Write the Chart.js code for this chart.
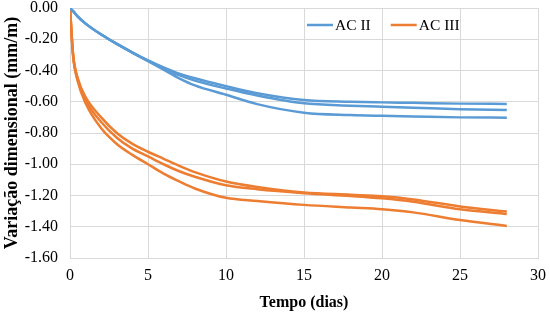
<!DOCTYPE html>
<html>
<head>
<meta charset="utf-8">
<script src="https://cdn.jsdelivr.net/npm/chart.js@4.4.1/dist/chart.umd.min.js"></script>
<style>
    html, body { margin: 0; padding: 0; background: #fff; }
    #wrap { width: 550px; height: 312px; }
</style>
</head>
<body>
<div id="wrap"><canvas id="chart" width="550" height="312"></canvas></div>
<script>
// days of measurement
const days = [0, 0.2, 0.5, 1, 2, 3, 4, 5, 6, 7, 8, 10, 12, 15, 18, 20, 22, 25, 28];

// AC II specimens (mm/m)
const acII_1 = [0, -0.02, -0.055, -0.10, -0.17, -0.23, -0.285, -0.335, -0.38, -0.42, -0.45, -0.50, -0.545, -0.589, -0.60, -0.604, -0.607, -0.612, -0.614];
const acII_2 = [0, -0.02, -0.055, -0.10, -0.17, -0.23, -0.285, -0.337, -0.385, -0.43, -0.465, -0.515, -0.56, -0.61, -0.625, -0.632, -0.638, -0.648, -0.653];
const acII_3 = [0, -0.02, -0.055, -0.10, -0.17, -0.23, -0.285, -0.34, -0.395, -0.45, -0.495, -0.555, -0.615, -0.67, -0.685, -0.69, -0.694, -0.70, -0.702];

// AC III specimens (mm/m)
const acIII_1 = [0, -0.30, -0.45, -0.57, -0.70, -0.80, -0.87, -0.92, -0.965, -1.01, -1.05, -1.11, -1.145, -1.18, -1.195, -1.205, -1.225, -1.27, -1.303];
const acIII_2 = [0, -0.30, -0.46, -0.59, -0.73, -0.83, -0.90, -0.95, -1.00, -1.045, -1.08, -1.135, -1.16, -1.185, -1.203, -1.218, -1.24, -1.288, -1.318];
const acIII_3 = [0, -0.31, -0.47, -0.61, -0.77, -0.87, -0.94, -1.00, -1.06, -1.11, -1.155, -1.215, -1.235, -1.26, -1.277, -1.288, -1.308, -1.357, -1.395];

const legendLabels = ['AC II', 'AC III'];
const blue = '#5b9bd5';
const orange = '#ed7d31';
const serif = '"Liberation Serif", "Times New Roman", serif';

function toPoints(values) {
    return days.map((d, i) => ({ x: d, y: values[i] }));
}

function line(label, values, color) {
    return {
        label: label,
        data: toPoints(values),
        borderColor: color,
        backgroundColor: color,
        borderWidth: 2.5,
        pointRadius: 0,
        cubicInterpolationMode: 'monotone',
        fill: false
    };
}

// legend drawn inside the plot area, like the original
const insideLegend = {
    id: 'insideLegend',
    afterDraw(chart) {
        const ctx = chart.ctx;
        const area = chart.chartArea;
        const y = area.top + 17;
        let x = area.left + 237;
        ctx.save();
        ctx.font = '15.5px ' + serif;
        ctx.textBaseline = 'middle';
        [[legendLabels[0], blue], [legendLabels[1], orange]].forEach(item => {
            ctx.strokeStyle = item[1];
            ctx.lineWidth = 2.5;
            ctx.beginPath();
            ctx.moveTo(x, y);
            ctx.lineTo(x + 26, y);
            ctx.stroke();
            ctx.fillStyle = '#000';
            ctx.fillText(item[0], x + 28, y + 1);
            x += 28 + ctx.measureText(item[0]).width + 20;
        });
        ctx.restore();
    }
};

const ctx = document.getElementById('chart').getContext('2d');
new Chart(ctx, {
    type: 'line',
    data: {
        datasets: [
            line('AC II', acII_1, blue),
            line('AC II', acII_2, blue),
            line('AC II', acII_3, blue),
            line('AC III', acIII_1, orange),
            line('AC III', acIII_2, orange),
            line('AC III', acIII_3, orange)
        ]
    },
    options: {
        responsive: false,
        animation: false,
        layout: { padding: { left: 0, right: 12, top: 8, bottom: 0 } },
        plugins: {
            legend: { display: false },
            tooltip: { enabled: false }
        },
        scales: {
            x: {
                type: 'linear',
                min: 0,
                max: 30,
                ticks: {
                    stepSize: 5,
                    padding: 8,
                    color: '#000',
                    font: { family: serif, size: 16 }
                },
                grid: { color: '#d9d9d9', drawTicks: false },
                border: { color: '#d9d9d9' },
                title: {
                    display: true,
                    text: 'Tempo (dias)',
                    color: '#000',
                    padding: { top: 1, bottom: 0 },
                    font: { family: serif, size: 16, weight: 'bold' }
                },
                afterFit: s => {
                    s.height = 54;
                    s.paddingLeft = 0;
                    s.paddingRight = 0;
                }
            },
            y: {
                min: -1.6,
                max: 0,
                ticks: {
                    stepSize: 0.2,
                    padding: 12,
                    color: '#000',
                    font: { family: serif, size: 16 },
                    callback: v => (Math.abs(v) < 1e-9 ? 0 : v).toFixed(2)
                },
                grid: { color: '#d9d9d9', drawTicks: false },
                border: { color: '#d9d9d9' },
                title: {
                    display: true,
                    text: 'Variação dimensional (mm/m)',
                    color: '#000',
                    padding: { top: 2, bottom: 0 },
                    font: { family: serif, size: 18, weight: 'bold' }
                },
                afterFit: s => {
                    s.width = 70;
                    s.paddingTop = 0;
                    s.paddingBottom = 0;
                }
            }
        }
    },
    plugins: [insideLegend]
});
</script>
</body>
</html>
